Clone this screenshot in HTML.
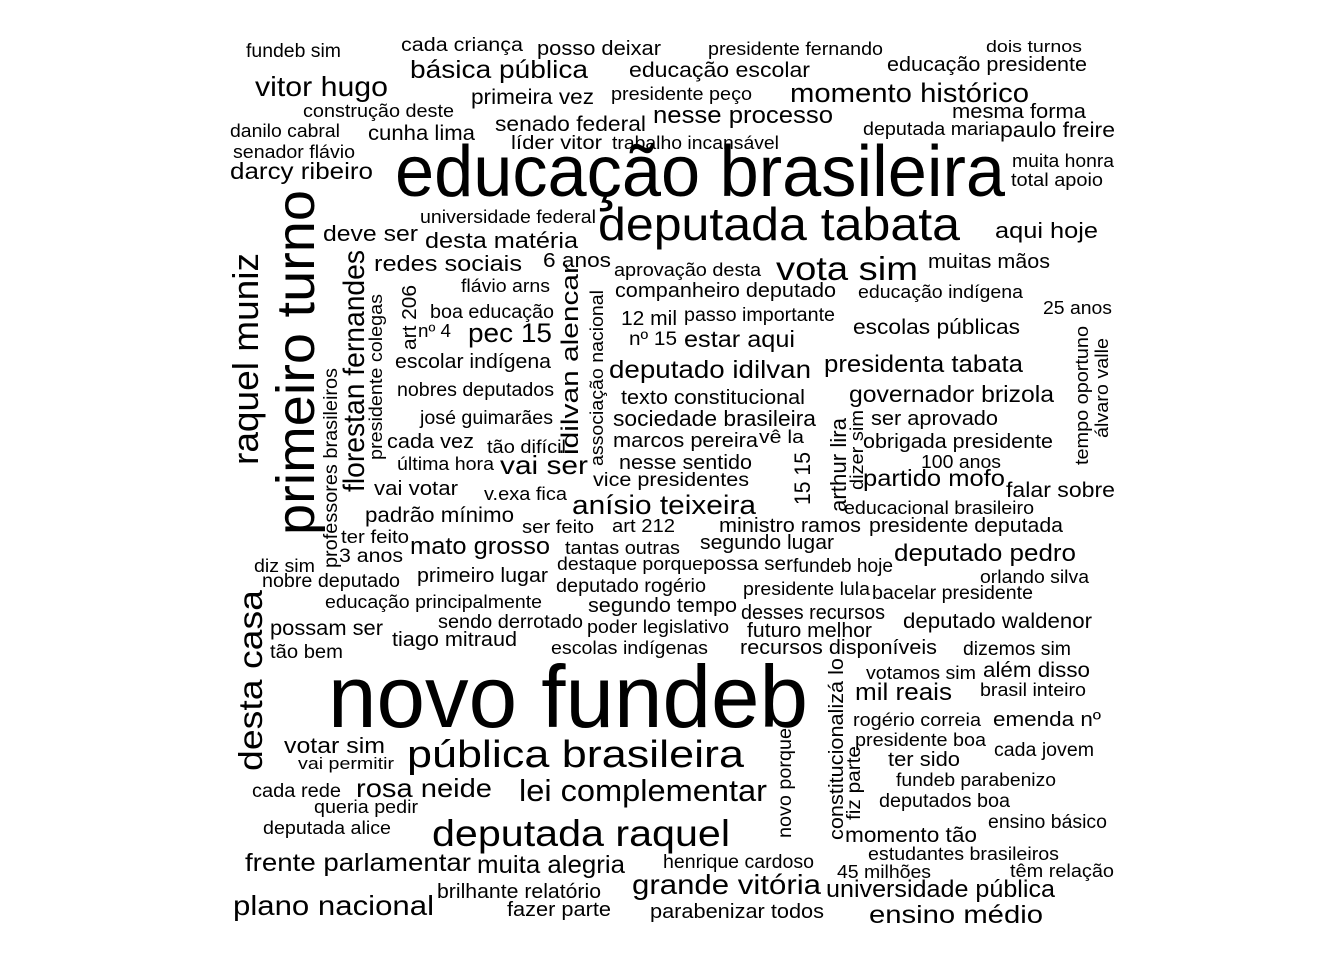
<!DOCTYPE html>
<html><head><meta charset="utf-8">
<style>
html,body{margin:0;padding:0;background:#fff;}
svg{display:block;}
text{font-family:"Liberation Sans",Arial,sans-serif;fill:#000;}
</style></head>
<body>
<svg id="cloud" width="1344" height="960" viewBox="0 0 1344 960" xmlns="http://www.w3.org/2000/svg">
<rect width="1344" height="960" fill="#fff"/>
</svg>
<script>
// words: [text, fontSize(weight), x1, x2, baselineY]
const words = [
["fundeb sim",19,246,341,57],["cada criança",19,401,523,51],["posso deixar",20,537,661,55],
["presidente fernando",18,708,883,55],["dois turnos",17,986,1082,52],["básica pública",25,410,588,78],
["educação escolar",21,629,810,77],["educação presidente",20,887,1087,71],["vitor hugo",28,255,388,96],
["primeira vez",21,471,594,104],["presidente peço",18,611,752,100],["momento histórico",27,790,1029,102],
["construção deste",18,303,454,117],["mesma forma",20,952,1086,118],["danilo cabral",18,230,340,137],
["cunha lima",21,368,475,140],["senado federal",21,495,646,131],["nesse processo",24,653,833,123],
["deputada maria",18,863,1000,135],["paulo freire",21,1000,1115,137],["líder vitor",19,511,602,149],
["trabalho incansável",18,612,779,149],["senador flávio",18,233,355,158],["educação brasileira",72,395,1005,196],
["muita honra",18,1012,1114,167],["darcy ribeiro",23,230,373,179],["total apoio",18,1011,1103,186],
["universidade federal",18,420,596,223],["deputada tabata",46,598,960,240],["aqui hoje",22,995,1098,238],
["deve ser",22,323,418,241],["desta matéria",22,425,578,248],["redes sociais",22,374,522,271],
["6 anos",20,543,611,267],["aprovação desta",18,614,761,276],["vota sim",33,776,918,280],
["muitas mãos",20,928,1050,268],["flávio arns",18,461,550,292],["companheiro deputado",20,615,836,297],
["educação indígena",18,858,1023,298],["25 anos",18,1043,1112,314],["boa educação",19,430,554,318],
["12 mil",20,621,677,325],["passo importante",19,684,835,321],["escolas públicas",21,853,1020,334],
["nº 4",18,418,451,337],["pec 15",27,468,552,342],["nº 15",19,629,677,345],
["estar aqui",23,684,795,347],["escolar indígena",20,395,551,368],["deputado idilvan",25,609,811,378],
["presidenta tabata",24,824,1023,372],["nobres deputados",19,397,554,396],["texto constitucional",20,621,805,404],
["governador brizola",23,849,1054,402],["josé guimarães",19,420,553,424],["sociedade brasileira",22,613,816,426],
["ser aprovado",20,871,998,425],["cada vez",20,387,474,448],["tão difícil",18,487,566,453],
["marcos pereira",20,613,758,447],["vê la",18,759,804,443],["obrigada presidente",20,863,1053,448],
["última hora",18,397,494,470],["vai ser",26,500,588,474],["nesse sentido",20,619,752,469],
["100 anos",18,921,1001,468],["vice presidentes",19,593,749,486],["partido mofo",23,863,1005,486],
["vai votar",20,374,458,495],["v.exa fica",18,484,567,500],["anísio teixeira",27,572,756,514],
["falar sobre",21,1006,1115,497],["educacional brasileiro",18,844,1034,514],["padrão mínimo",21,365,514,522],
["ser feito",18,522,594,533],["art 212",18,612,675,532],["ministro ramos",20,719,861,532],
["presidente deputada",20,869,1063,532],["ter feito",18,341,409,543],["tantas outras",18,565,680,554],
["segundo lugar",20,700,834,549],["mato grosso",24,410,550,554],["deputado pedro",24,894,1076,561],
["3 anos",19,339,403,562],["diz sim",18,254,315,572],["destaque porque",18,557,703,570],
["possa ser",19,703,793,570],["fundeb hoje",19,793,893,572],["nobre deputado",19,262,400,587],
["primeiro lugar",20,417,548,582],["deputado rogério",19,556,706,592],["presidente lula",18,743,870,595],
["bacelar presidente",19,872,1033,599],["orlando silva",18,980,1089,583],["educação principalmente",18,325,542,608],
["segundo tempo",20,588,737,612],["desses recursos",20,741,885,619],["sendo derrotado",19,438,583,628],
["poder legislativo",18,587,729,633],["futuro melhor",20,747,872,637],["deputado waldenor",21,903,1092,628],
["possam ser",21,270,383,635],["tiago mitraud",20,392,517,646],["escolas indígenas",18,551,708,654],
["recursos disponíveis",20,740,937,654],["dizemos sim",19,963,1071,655],["tão bem",19,270,343,658],
["votamos sim",18,866,976,679],["além disso",21,983,1090,677],["mil reais",24,855,952,700],
["brasil inteiro",18,980,1086,696],["novo fundeb",88,328,808,727],["rogério correia",18,853,981,726],
["emenda nº",20,993,1101,726],["presidente boa",18,855,986,746],["cada jovem",19,994,1094,756],
["votar sim",22,284,385,753],["pública brasileira",38,407,744,767],["vai permitir",17,298,394,769],
["ter sido",20,888,960,766],["fundeb parabenizo",18,896,1056,786],["cada rede",19,252,341,797],
["rosa neide",26,356,492,797],["lei complementar",31,519,767,801],["queria pedir",18,314,418,813],
["deputados boa",19,879,1010,807],["deputada alice",18,263,391,834],["ensino básico",19,988,1107,828],
["deputada raquel",37,432,730,846],["momento tão",21,845,977,842],["estudantes brasileiros",18,868,1059,860],
["frente parlamentar",25,245,471,871],["muita alegria",25,477,625,873],["henrique cardoso",19,663,814,868],
["45 milhões",18,837,931,878],["têm relação",18,1010,1114,877],["grande vitória",28,632,821,894],
["universidade pública",24,826,1055,897],["brilhante relatório",20,437,601,898],["plano nacional",28,233,434,915],
["fazer parte",20,507,611,916],["parabenizar todos",20,650,824,918],["ensino médio",25,869,1043,923]
];
// vertical words: [text, fontSize, y1(top), y2(bottom), baselineX]
const vwords = [
["raquel muniz",36,253,465,258],["primeiro turno",54,190,535,314],["florestan fernandes",30,250,492,364],
["professores brasileiros",19,368,568,337],["presidente colegas",18,294,460,382],["art 206",20,285,350,416],
["idilvan alencar",24,264,455,578],["associação nacional",18,290,466,603],["15 15",22,452,505,810],
["arthur lira",22,418,512,846],["dizer sim",18,410,490,863],["desta casa",33,590,771,262],
["novo porque",19,728,838,791],["constitucionalizá lo",20,658,840,843],["fiz parte",19,746,820,860],
["tempo oportuno",18,326,465,1088],["álvaro valle",18,338,438,1108]
];
const svg = document.getElementById('cloud');
const NS = 'http://www.w3.org/2000/svg';
function slug(s){return 'word-' + s.normalize('NFD').replace(/[\u0300-\u036f]/g,'').replace(/[^a-zA-Z0-9]+/g,'-').toLowerCase();}
words.forEach(w=>{
  const t = document.createElementNS(NS,'text');
  t.setAttribute('x', w[2]);
  t.setAttribute('y', w[4]);
  t.setAttribute('font-size', w[1]);
  t.setAttribute('textLength', w[3]-w[2]);
  t.setAttribute('lengthAdjust', 'spacingAndGlyphs');
  t.textContent = w[0];
  
  
  svg.appendChild(t);
});
vwords.forEach(w=>{
  const t = document.createElementNS(NS,'text');
  const cy = (w[2]+w[3])/2;
  t.setAttribute('transform', 'translate(' + w[4] + ',' + cy + ') rotate(-90)');
  t.setAttribute('x', 0);
  t.setAttribute('y', 0);
  t.setAttribute('text-anchor', 'middle');
  t.setAttribute('font-size', w[1]);
  t.setAttribute('textLength', w[3]-w[2]);
  t.setAttribute('lengthAdjust', 'spacingAndGlyphs');
  t.textContent = w[0];
  
  
  svg.appendChild(t);
});
</script>
</body></html>
